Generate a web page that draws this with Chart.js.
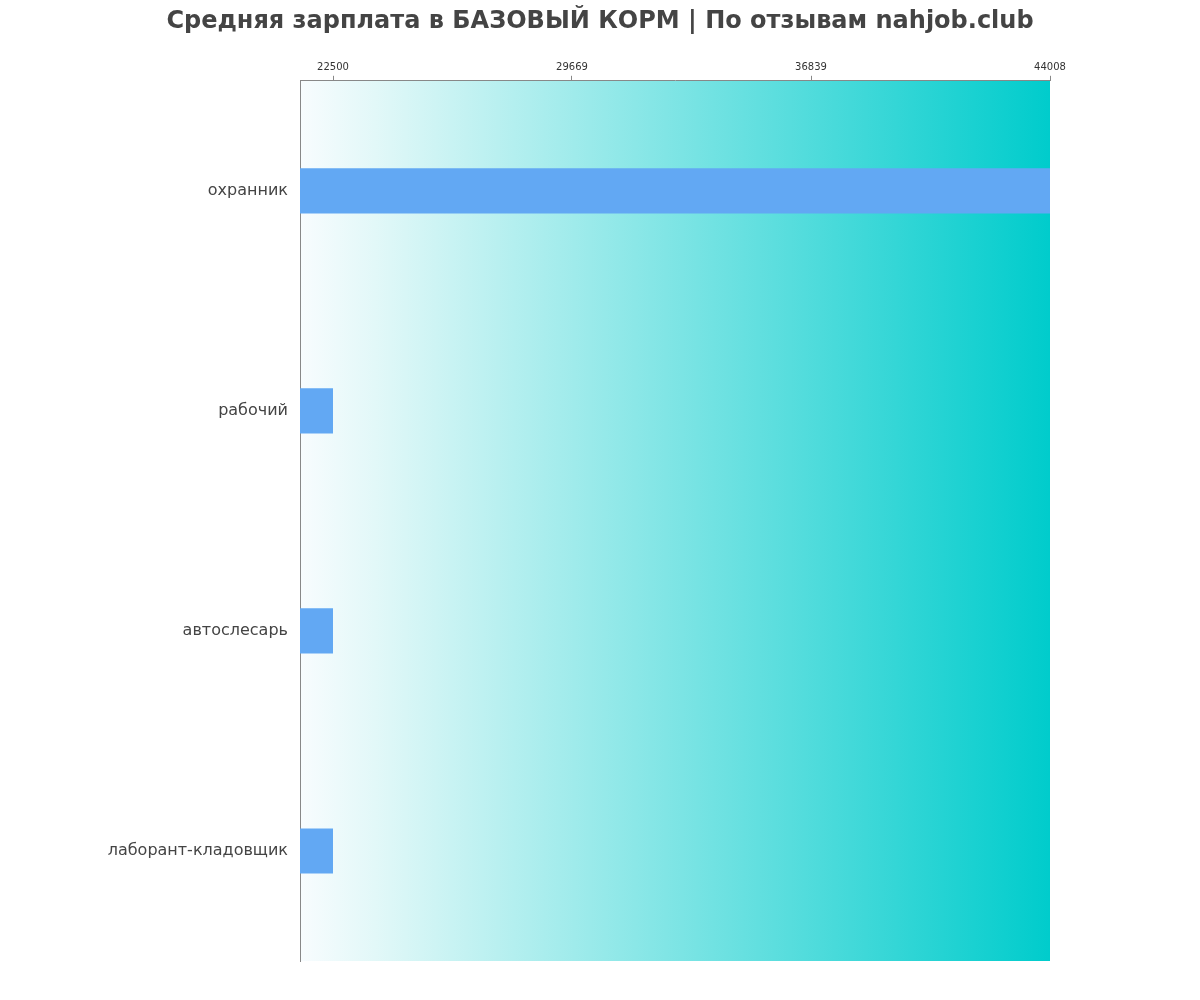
<!DOCTYPE html>
<html>
<head>
<meta charset="utf-8">
<script src="https://cdn.jsdelivr.net/npm/chart.js@4/dist/chart.umd.min.js"></script>
<style>
  html, body { margin: 0; padding: 0; background: #fff; }
  #wrap { width: 1200px; height: 1000px; }
</style>
</head>
<body>
<div id="wrap"><canvas id="salaryChart" width="1200" height="1000"></canvas></div>
<script>
const professions = ["охранник", "рабочий", "автослесарь", "лаборант-кладовщик"];
const salaries = [44008, 22500, 22500, 22500];
const tickValues = [22500, 29669, 36839, 44008];
const axisMin = 21510;
const axisMax = 44008;

const gradientBg = {
  id: "gradientBg",
  beforeDraw(chart) {
    const { ctx, chartArea: a } = chart;
    const g = ctx.createLinearGradient(a.left, 0, a.right, 0);
    g.addColorStop(0, "#f8fcfe");
    g.addColorStop(0.1, "#e2f8f8");
    g.addColorStop(1, "#00cccc");
    ctx.save();
    ctx.fillStyle = g;
    ctx.fillRect(a.left, a.top, a.right - a.left, a.bottom - a.top);
    ctx.restore();
  },
};

const ctx = document.getElementById("salaryChart").getContext("2d");
new Chart(ctx, {
  type: "bar",
  data: {
    labels: professions,
    datasets: [
      {
        data: salaries,
        backgroundColor: "#62a8f3",
        barPercentage: 0.205,
        categoryPercentage: 1,
      },
    ],
  },
  plugins: [gradientBg],
  options: {
    indexAxis: "y",
    responsive: false,
    animation: false,
    layout: { padding: { top: 7, right: 0, bottom: 39, left: 0 } },
    plugins: {
      legend: { display: false },
      tooltip: { enabled: false },
      title: {
        display: true,
        text: "Средняя зарплата в БАЗОВЫЙ КОРМ | По отзывам nahjob.club",
        color: "#444",
        font: { family: "DejaVu Sans", size: 24, weight: "bold" },
        padding: { top: 0, bottom: 24 },
      },
    },
    scales: {
      x: {
        position: "top",
        min: axisMin,
        max: axisMax,
        afterBuildTicks(axis) {
          axis.ticks = tickValues.map((v) => ({ value: v }));
        },
        ticks: {
          color: "#333",
          font: { family: "DejaVu Sans", size: 10 },
          padding: 2,
          maxRotation: 0,
          callback: (v) => String(v),
        },
        grid: {
          drawOnChartArea: false,
          tickLength: 5,
          color: "#888",
        },
        border: { color: "#888" },
      },
      y: {
        afterFit(axis) {
          axis.width = 300;
        },
        ticks: {
          color: "#444",
          font: { family: "DejaVu Sans", size: 16 },
          padding: 12,
        },
        grid: { display: false, drawTicks: false },
        border: { color: "#888" },
      },
      yRight: {
        position: "right",
        type: "category",
        afterFit(axis) {
          axis.width = 150;
        },
        ticks: { display: false },
        grid: { display: false, drawTicks: false },
        border: { display: false },
      },
    },
  },
});
</script>
</body>
</html>
